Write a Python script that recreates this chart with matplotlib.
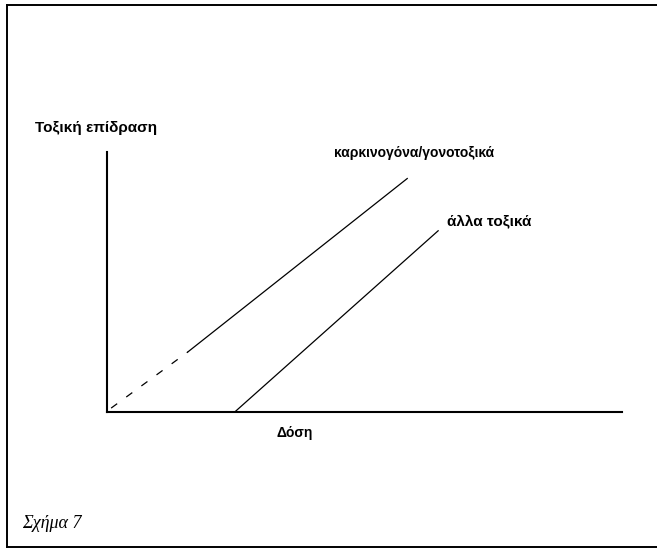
import matplotlib
matplotlib.use("Agg")
import matplotlib.pyplot as plt
from matplotlib.lines import Line2D

# dose / effect in arbitrary units (axes 0..100)
carc_dash_x = [0.8, 15.7]
carc_dash_y = [1.5, 23.1]
carc_x = [15.7, 58.3]
carc_y = [23.1, 89.8]
other_x = [24.8, 64.3]
other_y = [0.0, 69.7]

label_y = "Τοξική επίδραση"
label_x = "Δόση"
label_carc = "καρκινογόνα/γονοτοξικά"
label_other = "άλλα τοξικά"
caption = "Σχήμα 7"

W, H = 657, 553
fig = plt.figure(figsize=(W / 100, H / 100), dpi=100)

sans = ["Liberation Sans Narrow", "Liberation Sans", "DejaVu Sans"]
serif = ["Liberation Serif", "DejaVu Serif"]

# axes box: y axis at x=107, top at y=152, x axis at y=412, ends at x=622
ax = fig.add_axes([107 / W, 1 - 412 / H, (622 - 107) / W, (412 - 152) / H])
ax.set_xlim(0, 100)
ax.set_ylim(0, 100)
for s in ["top", "right"]:
    ax.spines[s].set_visible(False)
for s in ["left", "bottom"]:
    ax.spines[s].set_linewidth(1.5)
    ax.spines[s].set_color("black")
ax.set_xticks([])
ax.set_yticks([])

ax.plot(carc_dash_x, carc_dash_y, color="black", lw=0.9, dashes=(6, 9), clip_on=False)
ax.plot(carc_x, carc_y, color="black", lw=0.9, clip_on=False)
ax.plot(other_x, other_y, color="black", lw=0.9, clip_on=False)

# frame around the figure
frame = dict(color="black", lw=1.4)
fig.add_artist(Line2D([7 / W, 7 / W], [1 - 5 / H, 1 - 547 / H], **frame))
fig.add_artist(Line2D([7 / W, 1], [1 - 5 / H, 1 - 5 / H], **frame))
fig.add_artist(Line2D([7 / W, 1], [1 - 547 / H, 1 - 547 / H], **frame))

fig.text(35 / W, 1 - 128 / H, label_y, family=sans, weight="bold", fontsize=11, va="center", ha="left")
fig.text(414 / W, 1 - 153 / H, label_carc, family=sans, weight="bold", fontsize=10, va="center", ha="center")
fig.text(447 / W, 1 - 221 / H, label_other, family=sans, weight="bold", fontsize=11, va="center", ha="left")
fig.text(295 / W, 1 - 433 / H, label_x, family=sans, weight="bold", fontsize=10, va="center", ha="center")
fig.text(22 / W, 1 - 524 / H, caption, family=serif, style="italic", fontsize=13, va="center", ha="left")

fig.savefig("out.png", dpi=100)
